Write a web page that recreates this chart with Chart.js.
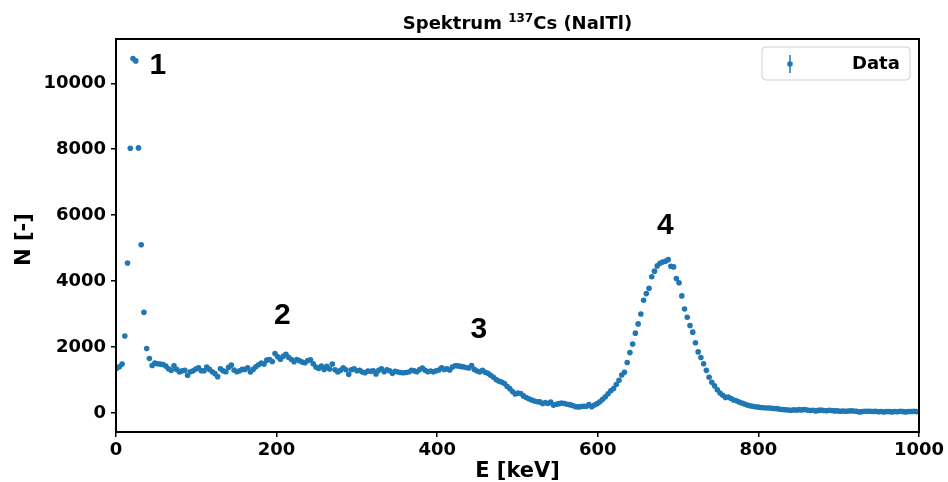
<!DOCTYPE html>
<html>
<head>
<meta charset="utf-8">
<script src="https://cdn.jsdelivr.net/npm/chart.js@4.4.1/dist/chart.umd.min.js"></script>
<style>
  html, body { margin: 0; padding: 0; background: #fff; }
  canvas { display: block; }
</style>
</head>
<body>
<canvas id="spectrumChart" width="948" height="482"></canvas>
<script>
// Energy of each channel [keV]
const energy = [
    0.8, 4.2, 7.6, 11.0, 14.4, 17.8, 21.2, 24.6, 28.0, 31.4,
    34.8, 38.2, 41.6, 45.0, 48.4, 51.8, 55.2, 58.6, 62.0, 65.4,
    68.8, 72.2, 75.6, 79.0, 82.4, 85.8, 89.2, 92.6, 96.0, 99.4,
    102.8, 106.2, 109.6, 113.0, 116.4, 119.8, 123.2, 126.6, 130.0, 133.4,
    136.8, 140.2, 143.6, 147.0, 150.4, 153.8, 157.2, 160.6, 164.0, 167.4,
    170.8, 174.2, 177.6, 181.0, 184.4, 187.8, 191.2, 194.6, 198.0, 201.4,
    204.8, 208.2, 211.6, 215.0, 218.4, 221.8, 225.2, 228.6, 232.0, 235.4,
    238.8, 242.2, 245.6, 249.0, 252.4, 255.8, 259.2, 262.6, 266.0, 269.4,
    272.8, 276.2, 279.6, 283.0, 286.4, 289.8, 293.2, 296.6, 300.0, 303.4,
    306.8, 310.2, 313.6, 317.0, 320.4, 323.8, 327.2, 330.6, 334.0, 337.4,
    340.8, 344.2, 347.6, 351.0, 354.4, 357.8, 361.2, 364.6, 368.0, 371.4,
    374.8, 378.2, 381.6, 385.0, 388.4, 391.8, 395.2, 398.6, 402.0, 405.4,
    408.8, 412.2, 415.6, 419.0, 422.4, 425.8, 429.2, 432.6, 436.0, 439.4,
    442.8, 446.2, 449.6, 453.0, 456.4, 459.8, 463.2, 466.6, 470.0, 473.4,
    476.8, 480.2, 483.6, 487.0, 490.4, 493.8, 497.2, 500.6, 504.0, 507.4,
    510.8, 514.2, 517.6, 521.0, 524.4, 527.8, 531.2, 534.6, 538.0, 541.4,
    544.8, 548.2, 551.6, 555.0, 558.4, 561.8, 565.2, 568.6, 572.0, 575.4,
    578.8, 582.2, 585.6, 589.0, 592.4, 595.8, 599.2, 602.6, 606.0, 609.4,
    612.8, 616.2, 619.6, 623.0, 626.4, 629.8, 633.2, 636.6, 640.0, 643.4,
    646.8, 650.2, 653.6, 657.0, 660.4, 663.8, 667.2, 670.6, 674.0, 677.4,
    680.8, 684.2, 687.6, 691.0, 694.4, 697.8, 701.2, 704.6, 708.0, 711.4,
    714.8, 718.2, 721.6, 725.0, 728.4, 731.8, 735.2, 738.6, 742.0, 745.4,
    748.8, 752.2, 755.6, 759.0, 762.4, 765.8, 769.2, 772.6, 776.0, 779.4,
    782.8, 786.2, 789.6, 793.0, 796.4, 799.8, 803.2, 806.6, 810.0, 813.4,
    816.8, 820.2, 823.6, 827.0, 830.4, 833.8, 837.2, 840.6, 844.0, 847.4,
    850.8, 854.2, 857.6, 861.0, 864.4, 867.8, 871.2, 874.6, 878.0, 881.4,
    884.8, 888.2, 891.6, 895.0, 898.4, 901.8, 905.2, 908.6, 912.0, 915.4,
    918.8, 922.2, 925.6, 929.0, 932.4, 935.8, 939.2, 942.6, 946.0, 949.4,
    952.8, 956.2, 959.6, 963.0, 966.4, 969.8, 973.2, 976.6, 980.0, 983.4,
    986.8, 990.2, 993.6, 997.0
];

// Counts in each channel
const counts = [
    1350, 1400, 1480, 2330, 4550, 8030, 10750, 10680, 8040, 5100,
    3050, 1950, 1650, 1440, 1510, 1490, 1480, 1470, 1420, 1340,
    1290, 1430, 1320, 1240, 1275, 1290, 1140, 1250, 1275, 1330,
    1370, 1280, 1280, 1390, 1320, 1250, 1190, 1100, 1340, 1275,
    1250, 1380, 1450, 1300, 1250, 1275, 1320, 1320, 1370, 1240,
    1320, 1400, 1460, 1510, 1480, 1600, 1620, 1560, 1800, 1700,
    1630, 1720, 1780, 1690, 1620, 1550, 1620, 1580, 1540, 1520,
    1590, 1610, 1490, 1390, 1350, 1420, 1320, 1410, 1330, 1480,
    1310, 1240, 1290, 1370, 1310, 1170, 1310, 1340, 1280, 1290,
    1240, 1220, 1270, 1260, 1280, 1180, 1290, 1340, 1250, 1310,
    1280, 1200, 1260, 1240, 1225, 1215, 1225, 1240, 1290, 1275,
    1250, 1315, 1360, 1290, 1250, 1270, 1245, 1275, 1300, 1370,
    1320, 1340, 1300, 1390, 1430, 1425, 1410, 1396, 1378, 1360,
    1440, 1320, 1270, 1245, 1290, 1235, 1200, 1140, 1080, 1010,
    965, 935, 890, 810, 735, 650, 575, 600, 590, 515,
    465, 430, 390, 360, 338, 334, 285, 310, 283, 330,
    235, 263, 280, 300, 285, 260, 250, 223, 190, 182,
    190, 200, 200, 250, 185, 240, 280, 340, 410, 490,
    580, 670, 740, 860, 990, 1150, 1230, 1530, 1830, 2090,
    2420, 2700, 3000, 3420, 3620, 3780, 4130, 4300, 4460, 4540,
    4580, 4600, 4650, 4450, 4430, 4080, 3950, 3550, 3150, 2900,
    2650, 2450, 2130, 1850, 1680, 1490, 1290, 1080, 930, 820,
    700, 605, 535, 470, 480, 435, 390, 370, 330, 300,
    268, 240, 215, 200, 185, 175, 165, 155, 150, 148,
    140, 135, 128, 110, 100, 95, 88, 80, 92, 85,
    98, 90, 105, 85, 70, 78, 60, 75, 85, 70,
    65, 80, 72, 60, 62, 48, 55, 50, 58, 62,
    55, 48, 30, 38, 50, 45, 50, 42, 48, 35,
    40, 30, 42, 38, 30, 40, 35, 48, 38, 30,
    42, 40, 45, 38
];

const xTicks = [0, 200, 400, 600, 800, 1000];
const yTicks = [0, 2000, 4000, 6000, 8000, 10000];

// Peak numbers written on the plot (data coordinates)
const peakLabels = ['1', '2', '3', '4'];
const peakLabelE = [52, 207, 452, 684];
const peakLabelN = [10520, 2940, 2510, 5670];

const blue = '#1f77b4';
const tickFont = { family: 'DejaVu Sans', size: 18, weight: 'bold' };

const decorations = {
    id: 'decorations',
    afterDraw(chart) {
        const ctx = chart.ctx;
        const a = chart.chartArea;
        const xs = chart.scales.x;
        const ys = chart.scales.y;
        ctx.save();

        // frame round the plot
        ctx.strokeStyle = '#000';
        ctx.lineWidth = 2;
        ctx.strokeRect(a.left, a.top, a.right - a.left, a.bottom - a.top);

        // peak numbers
        ctx.fillStyle = '#000';
        ctx.font = 'bold 30px "Liberation Sans"';
        ctx.textAlign = 'center';
        ctx.textBaseline = 'middle';
        peakLabels.forEach(function (t, i) {
            ctx.fillText(t, xs.getPixelForValue(peakLabelE[i]), ys.getPixelForValue(peakLabelN[i]));
        });

        // title with superscript
        const cx = (a.left + a.right) / 2;
        const big = 'bold 18px "DejaVu Sans"';
        const small = 'bold 12px "DejaVu Sans"';
        const p1 = 'Spektrum ', sup = '137', p2 = 'Cs (NaITl)';
        ctx.font = big;
        const w1 = ctx.measureText(p1).width, w3 = ctx.measureText(p2).width;
        ctx.font = small;
        const w2 = ctx.measureText(sup).width;
        let x = cx - (w1 + w2 + w3) / 2;
        ctx.textAlign = 'left';
        ctx.textBaseline = 'alphabetic';
        ctx.font = big;
        ctx.fillText(p1, x, 29);
        x += w1;
        ctx.font = small;
        ctx.fillText(sup, x, 22);
        x += w2;
        ctx.font = big;
        ctx.fillText(p2, x, 29);

        // axis titles
        ctx.font = 'bold 21px "DejaVu Sans"';
        ctx.textAlign = 'center';
        ctx.textBaseline = 'alphabetic';
        ctx.fillText('E [keV]', cx, 477);
        ctx.save();
        ctx.translate(30, (a.top + a.bottom) / 2 + 4);
        ctx.rotate(-Math.PI / 2);
        ctx.fillText('N [-]', 0, 0);
        ctx.restore();

        // legend
        const lx = 762, ly = 47, lw = 148, lh = 33, r = 4;
        ctx.beginPath();
        ctx.moveTo(lx + r, ly);
        ctx.arcTo(lx + lw, ly, lx + lw, ly + lh, r);
        ctx.arcTo(lx + lw, ly + lh, lx, ly + lh, r);
        ctx.arcTo(lx, ly + lh, lx, ly, r);
        ctx.arcTo(lx, ly, lx + lw, ly, r);
        ctx.closePath();
        ctx.fillStyle = 'rgba(255,255,255,0.8)';
        ctx.fill();
        ctx.strokeStyle = '#d0d0d0';
        ctx.lineWidth = 1;
        ctx.stroke();
        ctx.strokeStyle = blue;
        ctx.lineWidth = 1.5;
        ctx.beginPath();
        ctx.moveTo(790, 55);
        ctx.lineTo(790, 73);
        ctx.stroke();
        ctx.fillStyle = blue;
        ctx.beginPath();
        ctx.arc(790, 64, 2.8, 0, Math.PI * 2);
        ctx.fill();
        ctx.fillStyle = '#000';
        ctx.font = 'bold 18px "DejaVu Sans"';
        ctx.textAlign = 'left';
        ctx.textBaseline = 'middle';
        ctx.fillText('Data', 852, 64);

        ctx.restore();
    }
};

function plainLabel(v) {
    return String(v);
}

document.addEventListener('DOMContentLoaded', function () {
    const ctx = document.getElementById('spectrumChart').getContext('2d');
    new Chart(ctx, {
        type: 'scatter',
        data: {
            datasets: [
                {
                    label: 'Data',
                    data: energy.map(function (e, i) { return { x: e, y: counts[i] }; }),
                    backgroundColor: blue,
                    borderWidth: 0,
                    pointRadius: 2.8,
                    pointHoverRadius: 2.8
                }
            ]
        },
        options: {
            responsive: false,
            animation: false,
            devicePixelRatio: 1,
            layout: { padding: { left: 0, top: 39, right: 29, bottom: 0 } },
            plugins: {
                legend: { display: false },
                title: { display: false },
                tooltip: { enabled: false }
            },
            scales: {
                x: {
                    type: 'linear',
                    min: 0,
                    max: 1000,
                    afterBuildTicks: function (s) { s.ticks = xTicks.map(function (v) { return { value: v }; }); },
                    afterFit: function (s) { s.height = 50; },
                    ticks: { font: tickFont, color: '#000', padding: 3, maxRotation: 0, callback: plainLabel },
                    grid: { drawOnChartArea: false, drawTicks: true, tickLength: 5, color: '#000', lineWidth: 1.5 },
                    border: { display: false }
                },
                y: {
                    type: 'linear',
                    min: -580,
                    max: 11345,
                    afterBuildTicks: function (s) { s.ticks = yTicks.map(function (v) { return { value: v }; }); },
                    afterFit: function (s) { s.width = 116; },
                    ticks: { font: tickFont, color: '#000', padding: 5, callback: plainLabel },
                    grid: { drawOnChartArea: false, drawTicks: true, tickLength: 5, color: '#000', lineWidth: 1.5 },
                    border: { display: false }
                }
            }
        },
        plugins: [decorations]
    });
});
</script>
</body>
</html>
